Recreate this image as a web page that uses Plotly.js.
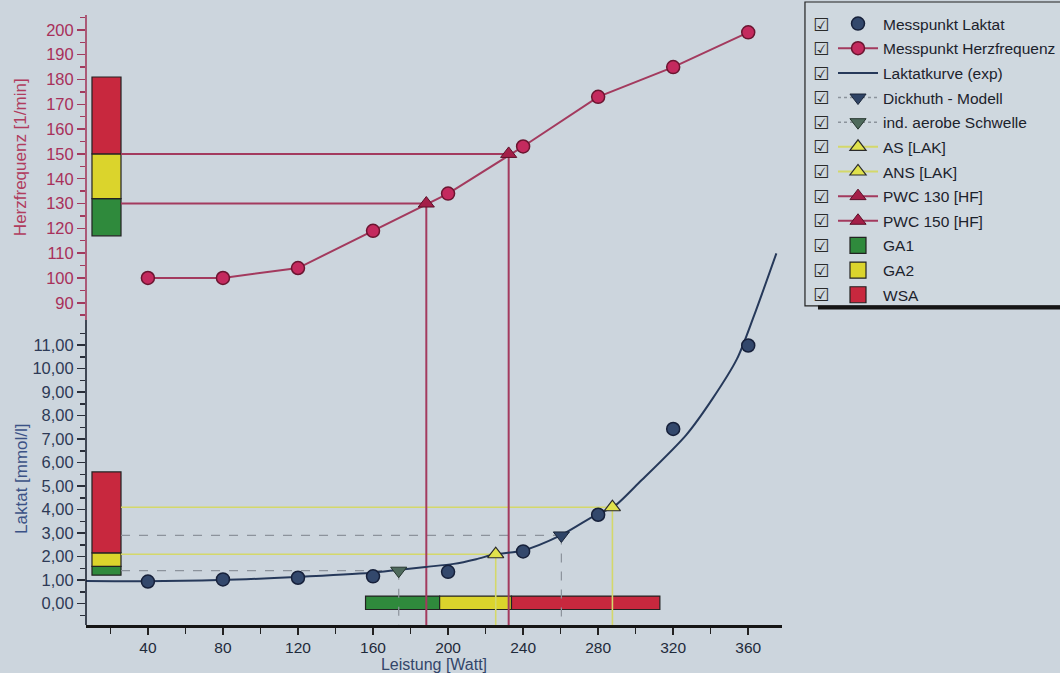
<!DOCTYPE html>
<html><head><meta charset="utf-8">
<script src="https://cdn.plot.ly/plotly-3.0.1.min.js"></script>
<style>html,body{margin:0;padding:0;background:#ccd5dd}#chart{width:1060px;height:673px}</style>
</head><body><div id="chart"></div>
<script>
// ---------- data ----------
const watt = [40, 80, 120, 160, 200, 240, 280, 320, 360];
const laktat = [0.94, 1.03, 1.10, 1.16, 1.35, 2.22, 3.78, 7.43, 10.98];
const herzfrequenz = [100, 100, 104, 119, 134, 153, 173, 185, 199];

const kurveWatt   = [7, 38, 78, 119, 159, 173, 188, 203, 215, 225, 240, 260, 280, 288, 302, 327, 341, 354, 363, 375];
const kurveLaktat = [0.96, 0.95, 1.0, 1.13, 1.31, 1.43, 1.56, 1.69, 1.89, 2.1, 2.26, 2.9, 3.83, 4.1, 5.16, 7.18, 8.72, 10.41, 12.23, 14.9];

const dickhuthWatt = 260.4, dickhuthLaktat = 2.9;
const aerobWatt = 173.7, aerobLaktat = 1.4;
const asWatt = 225.4, asLaktat = 2.1;
const ansWatt = 287.6, ansLaktat = 4.1;
const pwcWatt = [188.4, 232.3];
const pwcHF = [130, 150];

const zoneNames = ['GA1', 'GA2', 'WSA'];
const zoneHF = [[117, 132], [132, 150], [150, 181]];
const zoneLaktat = [[1.21, 1.58], [1.58, 2.16], [2.16, 5.6]];
const zoneWatt = [[156, 195.5], [195.5, 233.8], [233.8, 312.9]];

const xTicks = [40, 80, 120, 160, 200, 240, 280, 320, 360];
const laktatTicks = [0, 1, 2, 3, 4, 5, 6, 7, 8, 9, 10, 11];
const laktatMinor = [-0.5, 0.5, 1.5, 2.5, 3.5, 4.5, 5.5, 6.5, 7.5, 8.5, 9.5, 10.5, 11.5];
const hfTicks = [90, 100, 110, 120, 130, 140, 150, 160, 170, 180, 190, 200];
const hfMinor = [85, 95, 105, 115, 125, 135, 145, 155, 165, 175, 185, 195, 205];

const legendNames = ['Messpunkt Laktat', 'Messpunkt Herzfrequenz', 'Laktatkurve (exp)', 'Dickhuth - Modell',
  'ind. aerobe Schwelle', 'AS [LAK]', 'ANS [LAK]', 'PWC 130 [HF]', 'PWC 150 [HF]', 'GA1', 'GA2', 'WSA'];

// ---------- style / layout constants ----------
const X_RANGE = [7, 378];
const Y_LAK = [-0.91, 25.04];
const Y_HF = [-39.9, 206];
const BAR_L = 0.0086, BAR_R = 0.0503;       // vertical zone bars (paper x)
const POWER_BAR_Y = [-0.25, 0.32];          // bottom zone bar (lactate axis units)
const xAt = f => X_RANGE[0] + f * (X_RANGE[1] - X_RANGE[0]);
const zoneColors = ['#2f8a3c', '#dbd42c', '#c8283e'];
const HF_COL = '#a33a5e', YEL = '#d4d86a', DASH = '#8c939c';
const FONT = 'Liberation Sans, Arial, sans-serif';

// ---------- traces ----------
const traces = [];
traces.push({x: kurveWatt, y: kurveLaktat, mode: 'lines', name: legendNames[2], legendrank: 3,
  line: {color: '#26395a', width: 2, shape: 'spline', smoothing: 0.8}});
traces.push({x: watt, y: laktat, mode: 'markers', name: legendNames[0], legendrank: 1,
  marker: {symbol: 'circle', size: 13, color: '#33486c', line: {color: '#16203a', width: 1.5}}});
traces.push({x: watt, y: herzfrequenz, yaxis: 'y2', mode: 'lines+markers', name: legendNames[1], legendrank: 2,
  line: {color: HF_COL, width: 2}, marker: {symbol: 'circle', size: 13, color: '#c42a5e', line: {color: '#6a1530', width: 1.5}}});
traces.push({x: [dickhuthWatt], y: [dickhuthLaktat], mode: 'lines+markers', name: legendNames[3], legendrank: 4,
  line: {color: DASH, width: 1.5, dash: 'dot'}, marker: {symbol: 'triangle-down', size: 14, color: '#2f4466', line: {color: '#1a2538', width: 1}}});
traces.push({x: [aerobWatt], y: [aerobLaktat], mode: 'lines+markers', name: legendNames[4], legendrank: 5,
  line: {color: DASH, width: 1.5, dash: 'dot'}, marker: {symbol: 'triangle-down', size: 14, color: '#4e6a5c', line: {color: '#26362e', width: 1}}});
traces.push({x: [asWatt], y: [asLaktat], mode: 'lines+markers', name: legendNames[5], legendrank: 6,
  line: {color: YEL, width: 2}, marker: {symbol: 'triangle-up', size: 14, color: '#e0e24c', line: {color: '#2a2a2a', width: 1.2}}});
traces.push({x: [ansWatt], y: [ansLaktat], mode: 'lines+markers', name: legendNames[6], legendrank: 7,
  line: {color: YEL, width: 2}, marker: {symbol: 'triangle-up', size: 14, color: '#e0e24c', line: {color: '#2a2a2a', width: 1.2}}});
for (let i = 0; i < 2; i++) {
  traces.push({x: [pwcWatt[i]], y: [pwcHF[i]], yaxis: 'y2', mode: 'lines+markers', name: legendNames[7 + i], legendrank: 8 + i,
    line: {color: HF_COL, width: 2}, marker: {symbol: 'triangle-up', size: 14, color: '#a41f48', line: {color: '#5c1028', width: 1}}});
}
for (let i = 0; i < 3; i++) {
  traces.push({x: [null], y: [null], mode: 'markers', name: zoneNames[i], legendrank: 10 + i,
    marker: {symbol: 'square', size: 16, color: zoneColors[i], line: {color: '#222', width: 1.2}}});
}
traces.forEach((t, i) => { t.legendgroup = 'g' + i; t.hoverinfo = 'skip'; });

// ---------- shapes ----------
const shapes = [];
for (let i = 0; i < 3; i++) {
  shapes.push({type: 'rect', xref: 'paper', yref: 'y2', x0: BAR_L, x1: BAR_R, y0: zoneHF[i][0], y1: zoneHF[i][1],
    fillcolor: zoneColors[i], line: {color: '#222', width: 1.2}, layer: 'below'});
  shapes.push({type: 'rect', xref: 'paper', yref: 'y', x0: BAR_L, x1: BAR_R, y0: zoneLaktat[i][0], y1: zoneLaktat[i][1],
    fillcolor: zoneColors[i], line: {color: '#222', width: 1.2}, layer: 'below'});
  shapes.push({type: 'rect', xref: 'x', yref: 'y', x0: zoneWatt[i][0], x1: zoneWatt[i][1], y0: POWER_BAR_Y[0], y1: POWER_BAR_Y[1],
    fillcolor: zoneColors[i], line: {color: '#222', width: 1.2}, layer: 'below'});
}
function guide(xv, yv, yref, yMin, color, width, dash) {
  shapes.push({type: 'line', xref: 'x', yref: yref, x0: xAt(BAR_R), x1: xv, y0: yv, y1: yv, line: {color, width, dash}, layer: 'below'});
  shapes.push({type: 'line', xref: 'x', yref: yref, x0: xv, x1: xv, y0: yv, y1: yMin, line: {color, width, dash}, layer: 'below'});
}
guide(aerobWatt, aerobLaktat, 'y', Y_LAK[0], DASH, 1.2, 'dash');
guide(dickhuthWatt, dickhuthLaktat, 'y', Y_LAK[0], DASH, 1.2, 'dash');
guide(asWatt, asLaktat, 'y', Y_LAK[0], YEL, 1.6, 'solid');
guide(ansWatt, ansLaktat, 'y', Y_LAK[0], YEL, 1.6, 'solid');
for (let i = 0; i < 2; i++) guide(pwcWatt[i], pwcHF[i], 'y2', Y_HF[0], HF_COL, 2, 'solid');
// left axis line: upper part (heart rate) red, lower part (lactate) dark
shapes.push({type: 'line', xref: 'paper', yref: 'paper', x0: 0, x1: 0, y0: 0.5, y1: 1, line: {color: HF_COL, width: 1.6}});
shapes.push({type: 'line', xref: 'paper', yref: 'paper', x0: 0, x1: 0, y0: 0, y1: 0.5, line: {color: '#1c2333', width: 1.6}});
// legend frame + shadow
shapes.push({type: 'rect', xref: 'paper', yref: 'paper', x0: 1.033, x1: 1.42, y0: 0.523, y1: 1.0213,
  line: {color: '#222', width: 1.2}, fillcolor: 'rgba(255,255,255,0.07)'});
shapes.push({type: 'line', xref: 'paper', yref: 'paper', x0: 1.0517, x1: 1.42, y0: 0.5205, y1: 0.5205, line: {color: '#161616', width: 4}});

// ---------- annotations ----------
const annotations = [
  {text: 'Herzfrequenz [1/min]', xref: 'paper', yref: 'paper', x: -0.0948, y: 0.767, xanchor: 'center', yanchor: 'middle',
   textangle: -90, showarrow: false, font: {family: FONT, size: 17, color: '#b03c5e'}},
  {text: 'Laktat [mmol/l]', xref: 'paper', yref: 'paper', x: -0.092, y: 0.241, xanchor: 'center', yanchor: 'middle',
   textangle: -90, showarrow: false, font: {family: FONT, size: 17, color: '#3b5286'}}
];
for (let i = 0; i < legendNames.length; i++) {
  annotations.push({text: '☑', xref: 'paper', yref: 'paper', x: 1.056, y: (625 - (24 + 24.6 * i)) / 610,
    xanchor: 'center', yanchor: 'middle', showarrow: false, font: {family: 'DejaVu Sans', size: 18, color: '#2a2a2a'}});
}

const layout = {
  width: 1060, height: 673,
  margin: {l: 86, r: 278, t: 15, b: 48},
  paper_bgcolor: '#ccd5dd', plot_bgcolor: '#ccd5dd',
  font: {family: FONT, color: '#1f2a3a'},
  separators: ',.',
  showlegend: true,
  legend: {xref: 'container', yref: 'container', x: 833 / 1060, xanchor: 'left', y: (673 - 7) / 673, yanchor: 'top',
    bgcolor: 'rgba(0,0,0,0)', borderwidth: 0,
    font: {family: FONT, size: 15.5, color: '#1c222c'}, itemwidth: 40, tracegroupgap: 1.5, traceorder: 'grouped',
    itemclick: false, itemdoubleclick: false},
  xaxis: {range: X_RANGE, tickmode: 'array', tickvals: xTicks, ticks: 'outside', ticklen: 7, tickwidth: 1.5, tickcolor: '#222',
    minor: {tick0: 0, dtick: 20, ticks: 'outside', ticklen: 6, tickwidth: 1.5, tickcolor: '#222'},
    showline: true, linecolor: '#151515', linewidth: 2.5, showgrid: false, zeroline: false,
    tickfont: {size: 15.5, color: '#1f2a3a'},
    title: {text: 'Leistung [Watt]', font: {size: 16, color: '#33466a'}, standoff: 3}},
  yaxis: {range: Y_LAK, tickmode: 'array', tickvals: laktatTicks, tickformat: '.2f', ticks: 'outside', ticklen: 8, tickwidth: 1.5,
    tickcolor: '#2a2f3a', minor: {tickmode: 'array', tickvals: laktatMinor, ticks: 'outside', ticklen: 5, tickwidth: 1.5, tickcolor: '#2a2f3a'},
    showline: false, showgrid: false, zeroline: false, tickfont: {size: 16.5, color: '#2e3a56'}},
  yaxis2: {overlaying: 'y', side: 'left', anchor: 'x', range: Y_HF, tickmode: 'array', tickvals: hfTicks, ticks: 'outside',
    ticklen: 8, tickwidth: 1.5, tickcolor: HF_COL,
    minor: {tickmode: 'array', tickvals: hfMinor, ticks: 'outside', ticklen: 5, tickwidth: 1.5, tickcolor: HF_COL},
    showline: false, showgrid: false, zeroline: false, tickfont: {size: 16.5, color: '#a8305a'}},
  shapes: shapes,
  annotations: annotations
};

Plotly.newPlot('chart', traces, layout, {displayModeBar: false, staticPlot: true});
</script>
</body></html>
